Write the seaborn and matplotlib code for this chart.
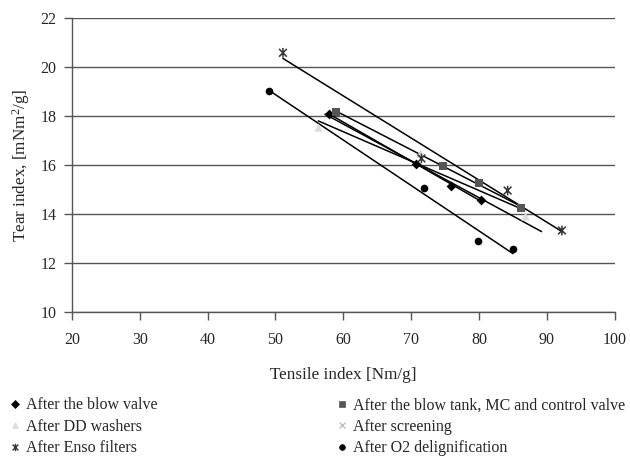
import matplotlib
matplotlib.use("Agg")
import matplotlib.pyplot as plt
from matplotlib.path import Path
import seaborn as sns
import pandas as pd

sns.set_theme(style="white")
plt.rcParams["font.family"] = ["Liberation Serif", "DejaVu Serif"]
plt.rcParams["mathtext.fontset"] = "custom"
plt.rcParams["mathtext.rm"] = "Liberation Serif"
plt.rcParams["mathtext.it"] = "Liberation Serif"

# Tensile vs tear index at each process position
blow_valve_x = [57.9, 70.7, 75.9, 80.3]
blow_valve_y = [18.1, 16.04, 15.16, 14.57]

blow_tank_x = [58.9, 74.7, 80.0, 86.1]
blow_tank_y = [18.18, 15.96, 15.28, 14.25]

dd_washers_x = [56.3, 71.3, 86.7]
dd_washers_y = [17.56, 16.48, 13.92]

screening_x = [57.3, 72.2, 81.3, 89.2]
screening_y = [18.15, 15.7, 14.47, 13.35]

enso_x = [51.1, 71.5, 84.2, 92.2]
enso_y = [20.58, 16.27, 14.96, 13.33]

o2_x = [49.0, 71.9, 79.9, 85.0]
o2_y = [19.02, 15.08, 12.9, 12.58]

# star marker: an x crossed by a vertical bar
star = Path([(0, -1), (0, 1), (-0.8, -0.8), (0.8, 0.8), (-0.8, 0.8), (0.8, -0.8)],
            [Path.MOVETO, Path.LINETO, Path.MOVETO, Path.LINETO, Path.MOVETO, Path.LINETO])

series = [
    ("After the blow valve", blow_valve_x, blow_valve_y, "D", "#000000", 5, False),
    ("After the blow tank, MC and control valve", blow_tank_x, blow_tank_y, "s", "#555555", 5.5, False),
    ("After DD washers", dd_washers_x, dd_washers_y, "^", "#dcdcdc", 6, False),
    ("After screening", screening_x, screening_y, "x", "#c0c0c0", 6, True),
    ("After Enso filters", enso_x, enso_y, star, "#333333", 7, True),
    ("After O2 delignification", o2_x, o2_y, "o", "#000000", 5.5, False),
]

fig, ax = plt.subplots(figsize=(6.3, 4.61), dpi=100)
fig.subplots_adjust(left=0.114, right=0.976, top=0.961, bottom=0.323)

handles = {}
for label, xs, ys, marker, color, size, is_line in series:
    df = pd.DataFrame({"x": xs, "y": ys})
    sns.regplot(data=df, x="x", y="y", ax=ax, ci=None, scatter=False,
                line_kws={"color": "black", "linewidth": 1.1, "zorder": 2})
    if is_line:
        kw = dict(facecolor="none", edgecolor=color, linewidth=1.1)
    else:
        kw = dict(color=color, edgecolor=color, linewidth=0)
    sns.scatterplot(data=df, x="x", y="y", legend=False, marker=marker,
                    s=size ** 2, zorder=3, ax=ax, **kw)
    handles[label] = plt.Line2D([], [], linestyle="none", marker=marker, color=color,
                                markersize=size * 0.75,
                                markeredgewidth=1.0 if is_line else 0.5)

ax.set_xlim(20, 100)
ax.set_ylim(10, 22)
ax.set_xticks(range(20, 101, 10))
ax.set_yticks(range(10, 23, 2))
ax.yaxis.grid(True, color="#555555", linewidth=1.0)
ax.set_axisbelow(True)
for side in ("top", "right"):
    ax.spines[side].set_visible(False)
for side in ("left", "bottom"):
    ax.spines[side].set_color("#555555")
    ax.spines[side].set_linewidth(1.0)
ax.tick_params(axis="both", direction="out", length=6, width=1, color="#555555",
               labelsize=11.5, pad=5, bottom=True, left=True)
ax.tick_params(axis="x", pad=8)

ax.set_xlabel("Tensile index [Nm/g]", fontsize=12.3, labelpad=14)
ax.set_ylabel("Tear index, [mNm$^2$/g]", fontsize=12.3, labelpad=6)

order = ["After the blow valve", "After DD washers", "After Enso filters",
         "After the blow tank, MC and control valve", "After screening",
         "After O2 delignification"]
fig.legend([handles[k] for k in order], order, loc="upper left",
           bbox_to_anchor=(0.004, 0.152), ncol=2, frameon=False, fontsize=11.5,
           handlelength=0.8, handletextpad=0.25, columnspacing=11.2,
           labelspacing=0.35, borderaxespad=0)

fig.savefig("out.png", dpi=100)
